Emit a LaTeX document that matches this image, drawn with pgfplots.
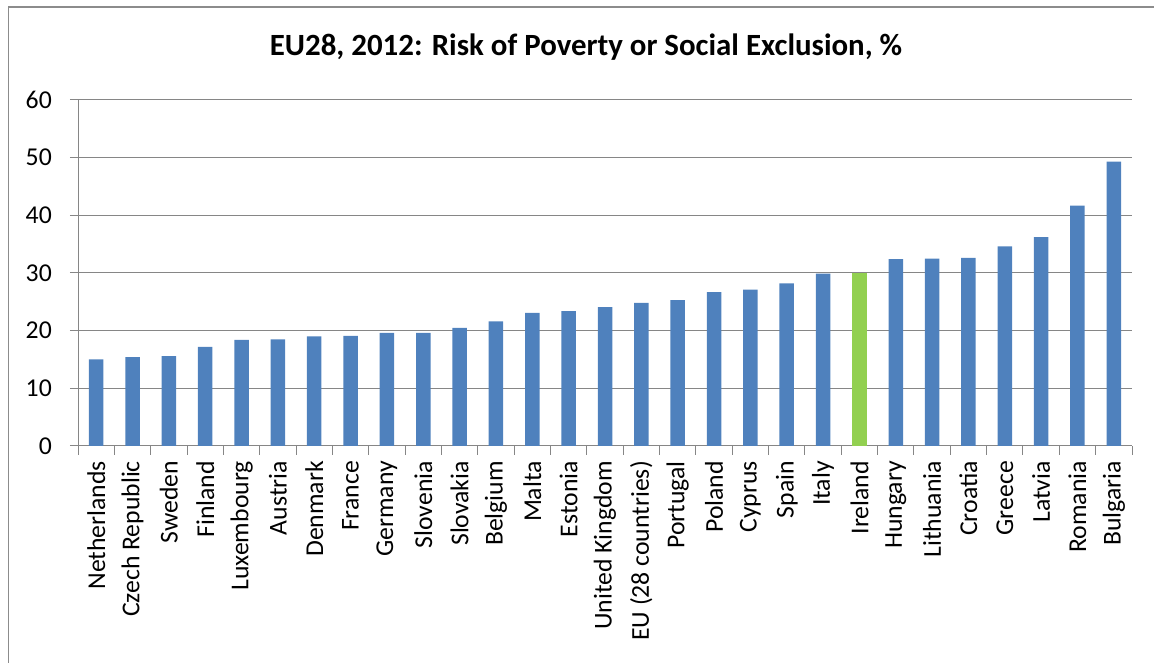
\documentclass[border=0pt]{standalone}
\usepackage{pgfplots}
\pgfplotsset{compat=1.18}
\usepackage{fontspec}
\setmainfont{Carlito}
\definecolor{barblue}{RGB}{79,129,189}
\definecolor{bargreen}{RGB}{146,208,80}
\definecolor{gridgray}{RGB}{134,134,134}
\definecolor{framegray}{RGB}{140,140,140}
\begin{document}
\begin{tikzpicture}[x=1bp,y=1bp]
\path[use as bounding box] (0,0) rectangle (1154,663);
\draw[framegray, line width=1.5bp] (8.5,0) -- (8.5,656) -- (1154,656);
\node[font=\fontsize{31}{36}\selectfont\bfseries, inner sep=0pt] at (586,616) {EU28, 2012: Risk of Poverty or Social Exclusion, \%};
\begin{axis}[
  at={(78bp,217bp)}, anchor=south west,
  scale only axis, width=1054bp, height=346bp,
  xmin=-0.5, xmax=28.5, ymin=0, ymax=60,
  ytick={0,10,...,60},
  axis x line*=bottom, axis y line*=left,
  axis line style={gridgray, line width=1bp, -},
  ymajorgrids, grid style={gridgray, line width=1bp},
  xtick={0,...,28},
  xticklabels={Netherlands,Czech Republic,Sweden,Finland,Luxembourg,Austria,Denmark,France,Germany,Slovenia,Slovakia,Belgium,Malta,Estonia,United Kingdom,EU (28 countries),Portugal,Poland,Cyprus,Spain,Italy,Ireland,Hungary,Lithuania,Croatia,Greece,Latvia,Romania,Bulgaria},
  x tick label style={rotate=90, anchor=east, inner sep=0pt, font=\fontsize{25.8}{30}\selectfont, xshift=-7bp},
  y tick label style={anchor=east, inner sep=0pt, font=\fontsize{25.8}{30}\selectfont, xshift=-18bp},
  /pgf/number format/assume math mode=true,
  xtick style={draw=none},
  ytick style={gridgray, line width=1bp},
  ytick align=outside, major tick length=8bp,
  extra x ticks={-0.5,0.5,...,28.5},
  extra x tick labels={},
  extra x tick style={xtick style={draw=gridgray, line width=1bp}, tick align=outside, major tick length=9bp, grid=none},
  ybar, bar width=14.5bp, bar shift=0pt,
  clip=false,
]
\addplot[fill=barblue, draw=none] coordinates {
(0,15.0) (1,15.4) (2,15.6) (3,17.2) (4,18.4) (5,18.5) (6,19.0) (7,19.1) (8,19.6) (9,19.6)
(10,20.5) (11,21.6) (12,23.1) (13,23.4) (14,24.1) (15,24.8) (16,25.3) (17,26.7) (18,27.1) (19,28.2)
(20,29.9) (22,32.4) (23,32.5) (24,32.6) (25,34.6) (26,36.2) (27,41.7) (28,49.3)
};
\addplot[fill=bargreen, draw=none] coordinates {(21,30.0)};
\end{axis}
\end{tikzpicture}
\end{document}
